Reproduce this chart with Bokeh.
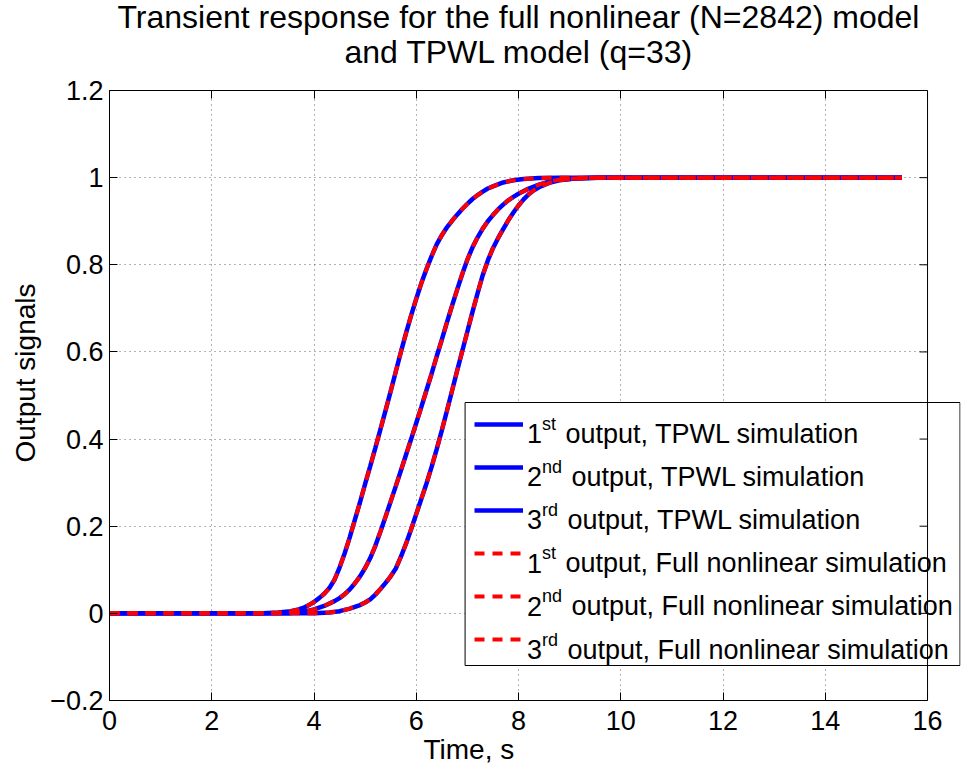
from math import pi
from bokeh.plotting import figure
from bokeh.models import (FixedTicker, LinearAxis, Legend, LegendItem, Label, Range1d, Title,
                          BoxAnnotation, Span)
from bokeh.embed import file_html
from bokeh.resources import INLINE

# ---------------- data ----------------
title_line1 = "Transient response for the full nonlinear (N=2842) model"
title_line2 = "and TPWL model (q=33)"
x_label = "Time, s"
y_label = "Output signals"

x_ticks = [0, 2, 4, 6, 8, 10, 12, 14, 16]
x_tick_labels = ["0", "2", "4", "6", "8", "10", "12", "14", "16"]
y_ticks = [-0.2, 0.0, 0.2, 0.4, 0.6, 0.8, 1.0, 1.2]
y_tick_labels = ["\u22120.2", "0", "0.2", "0.4", "0.6", "0.8", "1", "1.2"]

# 1st output (time, value)
t1 = [0, 3.0, 3.3, 3.5, 3.7, 3.8, 3.9, 4.0, 4.1, 4.2, 4.3, 4.4, 4.5, 4.6, 4.7, 4.8, 4.9,
      5.0, 5.1, 5.2, 5.3, 5.4, 5.5, 5.6, 5.7, 5.8, 5.9, 6.0, 6.1, 6.2, 6.3, 6.4, 6.5,
      6.6, 6.7, 6.8, 6.9, 7.0, 7.1, 7.2, 7.3, 7.4, 7.5, 7.7, 7.9, 8.1, 8.4, 8.8, 15.5]
y1 = [0, 0.0, 0.002, 0.004, 0.009, 0.013, 0.019, 0.026, 0.035, 0.045, 0.058, 0.077,
      0.105, 0.138, 0.175, 0.215, 0.255, 0.297, 0.338, 0.38, 0.423, 0.466, 0.51, 0.555,
      0.6, 0.643, 0.684, 0.722, 0.758, 0.79, 0.82, 0.847, 0.868, 0.886, 0.901, 0.915,
      0.928, 0.94, 0.951, 0.96, 0.968, 0.975, 0.98, 0.989, 0.994, 0.997, 0.999, 1.0, 1.0]
# 2nd output
t2 = [0, 3.5, 3.8, 4.0, 4.2, 4.4, 4.5, 4.6, 4.7, 4.8, 4.9, 5.0, 5.1, 5.2, 5.3, 5.4, 5.5,
      5.6, 5.7, 5.8, 5.9, 6.0, 6.1, 6.2, 6.3, 6.4, 6.5, 6.6, 6.7, 6.8, 6.9, 7.0, 7.1,
      7.2, 7.3, 7.4, 7.5, 7.6, 7.7, 7.8, 7.9, 8.0, 8.2, 8.4, 8.6, 8.8, 9.1, 9.5, 15.5]
y2 = [0, 0.0, 0.004, 0.009, 0.017, 0.028, 0.035, 0.044, 0.055, 0.069, 0.085, 0.104,
      0.127, 0.155, 0.188, 0.222, 0.257, 0.292, 0.328, 0.364, 0.4, 0.437, 0.474, 0.512,
      0.55, 0.59, 0.628, 0.668, 0.706, 0.743, 0.779, 0.812, 0.84, 0.863, 0.883, 0.9,
      0.914, 0.927, 0.938, 0.948, 0.956, 0.963, 0.975, 0.984, 0.991, 0.995, 0.998, 1.0, 1.0]
# 3rd output
t3 = [0, 4.0, 4.3, 4.5, 4.7, 4.9, 5.0, 5.1, 5.2, 5.3, 5.4, 5.5, 5.6, 5.7, 5.8, 5.9, 6.0,
      6.1, 6.2, 6.3, 6.4, 6.5, 6.6, 6.7, 6.8, 6.9, 7.0, 7.1, 7.2, 7.3, 7.4, 7.5, 7.6,
      7.7, 7.8, 7.9, 8.0, 8.1, 8.2, 8.3, 8.4, 8.6, 8.8, 9.1, 9.6, 15.5]
y3 = [0, 0.0, 0.002, 0.005, 0.011, 0.019, 0.025, 0.032, 0.043, 0.056, 0.07, 0.085,
      0.103, 0.13, 0.16, 0.193, 0.228, 0.263, 0.298, 0.336, 0.377, 0.42, 0.465, 0.511,
      0.557, 0.602, 0.647, 0.692, 0.735, 0.776, 0.81, 0.838, 0.861, 0.882, 0.902, 0.92,
      0.936, 0.95, 0.962, 0.971, 0.978, 0.988, 0.994, 0.998, 1.0, 1.0]

ordinal_numbers = ["1", "2", "3", "1", "2", "3"]
ordinal_suffixes = ["st", "nd", "rd", "st", "nd", "rd"]
legend_texts = ["output, TPWL simulation"] * 3 + ["output, Full nonlinear simulation"] * 3

# ---------------- layout ----------------
FONT = "Liberation Sans"
W, H = 961, 765
FL, FT, FB = 108, 90, 700
BOX_R = 927          # right edge of the drawn axes box
FR = 960             # right edge of the plotting frame (room for the legend)
X0, X1 = x_ticks[0], x_ticks[-1]
Y0, Y1 = y_ticks[0], y_ticks[-1]
x_end = X0 + (X1 - X0) * (FR - FL) / (BOX_R - FL)

def px_to_x(px):
    return X0 + (px - FL) * (x_end - X0) / (FR - FL)

def py_to_y(py):
    return Y1 - (py - FT) * (Y1 - Y0) / (FB - FT)

p = figure(width=W, height=H, x_range=Range1d(X0, x_end), y_range=Range1d(Y0, Y1),
           output_backend="svg", toolbar_location=None,
           min_border_left=FL, min_border_right=W - FR,
           min_border_top=FT, min_border_bottom=H - FB)
p.background_fill_color = "white"
p.border_fill_color = "white"
p.outline_line_color = None

def style_title(t, standoff, offset):
    t.text_font = FONT
    t.text_font_size = "32px"
    t.text_font_style = "normal"
    t.text_color = "black"
    t.align = "left"
    t.offset = offset
    t.standoff = standoff

p.title.text = title_line1
style_title(p.title, -13, 8)

def style_axis(ax, show_labels):
    ax.axis_line_color = "black"
    ax.major_tick_in = 8
    ax.major_tick_out = 0
    ax.major_tick_line_color = "black"
    ax.minor_tick_line_color = None
    ax.major_label_text_font = FONT
    if show_labels:
        ax.major_label_text_font_size = "27px"
        ax.major_label_text_color = "black"
    else:
        ax.major_label_text_font_size = "1px"
        ax.major_label_text_color = None

p.xaxis.ticker = FixedTicker(ticks=x_ticks)
p.yaxis.ticker = FixedTicker(ticks=y_ticks)
p.xaxis.major_label_overrides = dict(zip(x_ticks, x_tick_labels))
p.yaxis.major_label_overrides = dict(zip(y_ticks, y_tick_labels))
p.xaxis.major_label_standoff = 10
p.yaxis.major_label_standoff = 6
p.xaxis.bounds = (X0, X1)
style_axis(p.xaxis[0], True)
style_axis(p.yaxis[0], True)

top_ax = LinearAxis(ticker=FixedTicker(ticks=x_ticks), bounds=(X0, X1))
style_axis(top_ax, False)
p.add_layout(top_ax, "above")

# blank gap between the axes box and the two-line title
spacer = Title(text=" ", text_font=FONT, text_font_size="10px", standoff=5)
p.add_layout(spacer, "above")

sub = Title(text=title_line2)
style_title(sub, 6, 235)
p.add_layout(sub, "above")

xl = Title(text=x_label, align="left", offset=314, vertical_align="bottom", standoff=-2,
           text_font=FONT, text_font_size="28px", text_font_style="normal", text_color="black")
p.add_layout(xl, "below")
yl = Title(text=y_label, align="left", offset=238, standoff=14,
           text_font=FONT, text_font_size="28px", text_font_style="normal", text_color="black")
p.add_layout(yl, "left")

# right border of the axes box with inward ticks
p.add_layout(Span(location=X1, dimension="height", line_color="black", line_width=1))
p.ray(x=[X1] * len(y_ticks), y=y_ticks, length=8, length_units="screen", angle=pi,
      line_color="black", line_width=1)

# dotted grid
p.grid.grid_line_color = "#333333"
p.grid.grid_line_alpha = 0.75
p.grid.grid_line_dash = "1 4"
p.grid.grid_line_width = 1
if "cross_bounds" in p.ygrid[0].properties():
    p.ygrid[0].cross_bounds = (X0, X1)
else:
    p.ygrid.visible = False
    p.segment(x0=[X0] * len(y_ticks), y0=y_ticks, x1=[X1] * len(y_ticks), y1=y_ticks,
              line_color="#333333", line_alpha=0.75, line_dash="1 4", line_width=1,
              level="underlay")

# ---------------- legend box ----------------
LEG_L, LEG_R, LEG_T, LEG_B = 464, 959.5, 402, 665
p.add_layout(BoxAnnotation(left=px_to_x(LEG_L), right=px_to_x(LEG_R),
                           top=py_to_y(LEG_T), bottom=py_to_y(LEG_B),
                           fill_color="white", fill_alpha=1, line_color="black",
                           line_width=1, line_alpha=1, level="underlay"))

# ---------------- lines ----------------
series = [(t1, y1), (t2, y2), (t3, y3)]
blue = [p.line(t, y, line_color="#0000ff", line_width=4.5) for t, y in series]
red = [p.line(t, y, line_color="#ff0000", line_width=4, line_dash="10 8") for t, y in series]

# legend samples (transparent legend placed inside the box)
GW, GH, SP = 49, 24, 19
leg_h = 6 * GH + 5 * SP
items = [LegendItem(label=" ", renderers=[r]) for r in blue + red]
legend = Legend(items=items, location=(473 - FL, FB - (LEG_T + 10 + leg_h)), margin=0,
                padding=0, spacing=SP, glyph_width=GW, glyph_height=GH,
                label_height=GH, label_standoff=2, label_width=10,
                label_text_font_size="8px",
                border_line_color=None, background_fill_alpha=0)
p.add_layout(legend)

# legend texts: ordinal number, superscript suffix, description
adv = {"s": 0.5, "t": 0.278, "n": 0.556, "d": 0.556, "r": 0.333}
MAIN_SZ, SUP_SZ = 27, 18
for i, (num, suf, txt) in enumerate(zip(ordinal_numbers, ordinal_suffixes, legend_texts)):
    base = 433 + 43.2 * i
    x_num = 525.5
    x_sup = x_num + 0.556 * MAIN_SZ
    x_txt = x_sup + sum(adv[c] for c in suf) * SUP_SZ + 9.5
    for xx, yy, tt, sz in [(x_num, base, num, MAIN_SZ), (x_sup, base - 10, suf, SUP_SZ),
                           (x_txt, base, txt, MAIN_SZ)]:
        p.add_layout(Label(x=xx - FL, y=FB - yy, x_units="screen", y_units="screen",
                           text=tt, text_font=FONT, text_font_size=f"{sz}px",
                           text_color="black", text_align="left",
                           text_baseline="alphabetic"))

open("out.html", "w").write(file_html(p, INLINE))
